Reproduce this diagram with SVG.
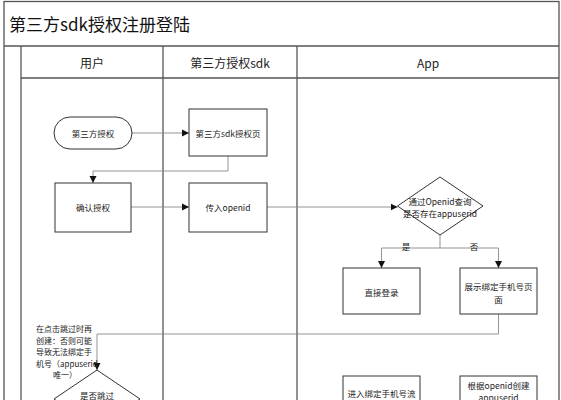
<svg xmlns="http://www.w3.org/2000/svg" width="561" height="400" viewBox="0 0 561 400">
<defs>
<marker id="arr" markerWidth="8" markerHeight="8" refX="7" refY="4" orient="auto" markerUnits="userSpaceOnUse">
<path d="M0,0.5 L7,4 L0,7.5 z" fill="#111"/>
</marker>
<style>
.pool{fill:none;stroke:#555;stroke-width:1.3}
.box{fill:#fff;stroke:#333;stroke-width:1}
.con{fill:none;stroke:#888;stroke-width:0.9}
.t{font-family:"Noto Sans CJK SC","Noto Sans",sans-serif;fill:#222;text-anchor:middle;dominant-baseline:central}
.n{font-size:8.5px}
.h{font-size:12px}
.title{font-family:"Noto Sans CJK SC","Noto Sans",sans-serif;font-size:17px;fill:#111}
.note{font-family:"Noto Sans CJK SC","Noto Sans",sans-serif;font-size:8px;fill:#222}
</style>
</defs>
<rect width="561" height="400" fill="#fff"/>
<g id="pool">
<rect class="pool" x="4" y="1.5" width="555" height="420"/>
<line class="pool" x1="4" y1="46" x2="559" y2="46"/>
<line class="pool" x1="21" y1="46" x2="21" y2="400"/>
<line class="pool" x1="21" y1="78" x2="559" y2="78"/>
<line class="pool" x1="163" y1="46" x2="163" y2="400"/>
<line class="pool" x1="297" y1="46" x2="297" y2="400"/>
<text class="title" x="9" y="31">第三方sdk授权注册登陆</text>
<text class="t h" x="92" y="62">用户</text>
<text class="t h" x="230" y="62">第三方授权sdk</text>
<text class="t h" x="428" y="62">App</text>
</g>
<g id="connectors">
<line class="con" x1="132" y1="133" x2="189" y2="133" marker-end="url(#arr)"/>
<polyline class="con" points="228,156 228,171 93,171 93,183" marker-end="url(#arr)"/>
<line class="con" x1="131" y1="207" x2="189" y2="207" marker-end="url(#arr)"/>
<line class="con" x1="267" y1="207" x2="397.5" y2="207" marker-end="url(#arr)"/>
<polyline class="con" points="440,235 440,248 381.5,248 381.5,268" marker-end="url(#arr)"/>
<polyline class="con" points="440,248 498.5,248 498.5,268" marker-end="url(#arr)"/>
<polyline class="con" points="498.5,314 498.5,334 97,334 97,370" marker-end="url(#arr)"/>
<text class="t n" x="406" y="246">是</text>
<text class="t n" x="474" y="246">否</text>
</g>
<g id="start">
<rect class="box" x="54" y="117" width="78" height="32" rx="16"/>
<text class="t n" x="93" y="133">第三方授权</text>
</g>
<g id="sdkpage">
<rect class="box" x="189" y="109" width="78" height="47"/>
<text class="t n" x="228" y="133">第三方sdk授权页</text>
</g>
<g id="confirm">
<rect class="box" x="55" y="183" width="76" height="49"/>
<text class="t n" x="93" y="207">确认授权</text>
</g>
<g id="openid">
<rect class="box" x="189" y="183" width="78" height="49"/>
<text class="t n" x="228" y="207">传入openid</text>
</g>
<g id="query">
<polygon class="box" points="440,177 483,206 440,235 397.5,206"/>
<text class="t n" x="440" y="201">通过Openid查询</text>
<text class="t n" x="440" y="213">是否存在appuserid</text>
</g>
<g id="login">
<rect class="box" x="343" y="268" width="77" height="46"/>
<text class="t n" x="381.5" y="292">直接登录</text>
</g>
<g id="bindpage">
<rect class="box" x="460" y="268" width="77" height="46"/>
<text class="t n" x="498.5" y="286">展示绑定手机号页</text>
<text class="t n" x="498.5" y="299">面</text>
</g>
<g id="note">
<text class="note" x="36" y="332">在点击跳过时再</text>
<text class="note" x="36" y="343.5">创建：否则可能</text>
<text class="note" x="36" y="355">导致无法绑定手</text>
<text class="note" x="36" y="366.5">机号（appuserid</text>
<text class="note" x="53" y="378">唯一）</text>
</g>
<g id="skip">
<polygon class="box" points="97,370 140,399 97,428 54,399"/>
<text class="t n" x="97" y="395">是否跳过</text>
</g>
<g id="bindflow">
<rect class="box" x="343" y="376" width="77" height="46"/>
<text class="t n" x="381.5" y="393">进入绑定手机号流</text>
</g>
<g id="create">
<rect class="box" x="460" y="376" width="77" height="46"/>
<text class="t n" x="498.5" y="385">根据openid创建</text>
<text class="t n" x="498.5" y="396.5">appuserid</text>
</g>
</svg>
